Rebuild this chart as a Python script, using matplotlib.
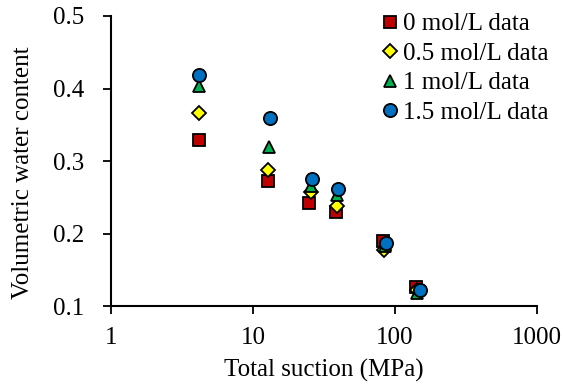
import matplotlib
matplotlib.use('Agg')
import matplotlib.pyplot as plt

plt.rcParams['font.family'] = ['Liberation Serif', 'DejaVu Serif']

# data
suction_0 = [4.2, 12.7, 24.9, 38.6, 82, 141]
theta_0 = [0.329, 0.273, 0.242, 0.230, 0.190, 0.127]

suction_05 = [4.2, 12.8, 25.5, 39.0, 84, 143]
theta_05 = [0.366, 0.288, 0.258, 0.238, 0.178, 0.122]

suction_1 = [4.2, 12.9, 25.5, 39.0, 85, 142]
theta_1 = [0.404, 0.320, 0.265, 0.253, 0.183, 0.118]

suction_15 = [4.2, 13.2, 26.1, 39.4, 87, 150]
theta_15 = [0.419, 0.360, 0.275, 0.262, 0.187, 0.122]

labels = ['0 mol/L data', '0.5 mol/L data', '1 mol/L data', '1.5 mol/L data']

fig = plt.figure(figsize=(5.63, 3.9), dpi=100)
ax = fig.add_axes([0.197, 0.215, 0.757, 0.744])

ax.plot(suction_0, theta_0, 's', color='#C00000', mec='black', mew=1.3, ms=9, label=labels[0])
ax.plot(suction_05, theta_05, 'D', color='#FFFF00', mec='black', mew=1.3, ms=7, label=labels[1])
ax.plot(suction_1, theta_1, '^', color='#00B050', mec='black', mew=1.3, ms=9, label=labels[2])
ax.plot(suction_15, theta_15, 'o', color='#0070C0', mec='black', mew=1.3, ms=9.5, label=labels[3])

ax.set_xscale('log')
ax.set_xlim(1, 1000)
ax.set_ylim(0.1, 0.5)
ax.set_xticks([1, 10, 100, 1000])
ax.set_xticklabels(['1', '10', '100', '1000'])
ax.minorticks_off()
ax.set_yticks([0.1, 0.2, 0.3, 0.4, 0.5])
ax.set_yticklabels(['0.1', '0.2', '0.3', '0.4', '0.5'])

ax.spines['top'].set_visible(False)
ax.spines['right'].set_visible(False)
ax.spines['left'].set_linewidth(1.5)
ax.spines['bottom'].set_linewidth(1.5)
ax.tick_params(direction='out', length=6, width=1.3, labelsize=18)
ax.tick_params(axis='x', pad=9)
ax.tick_params(axis='y', pad=13)

ax.set_xlabel('Total suction (MPa)', fontsize=18, labelpad=7)
ax.set_ylabel('Volumetric water content', fontsize=18)
ax.yaxis.set_label_coords(-0.18, 0.46)

ax.legend(loc='upper right', frameon=False, fontsize=18, handletextpad=0.05,
          handlelength=0.9, labelspacing=0.28, borderaxespad=0.0,
          bbox_to_anchor=(1.05, 1.045))

fig.savefig('out.png', dpi=100)
